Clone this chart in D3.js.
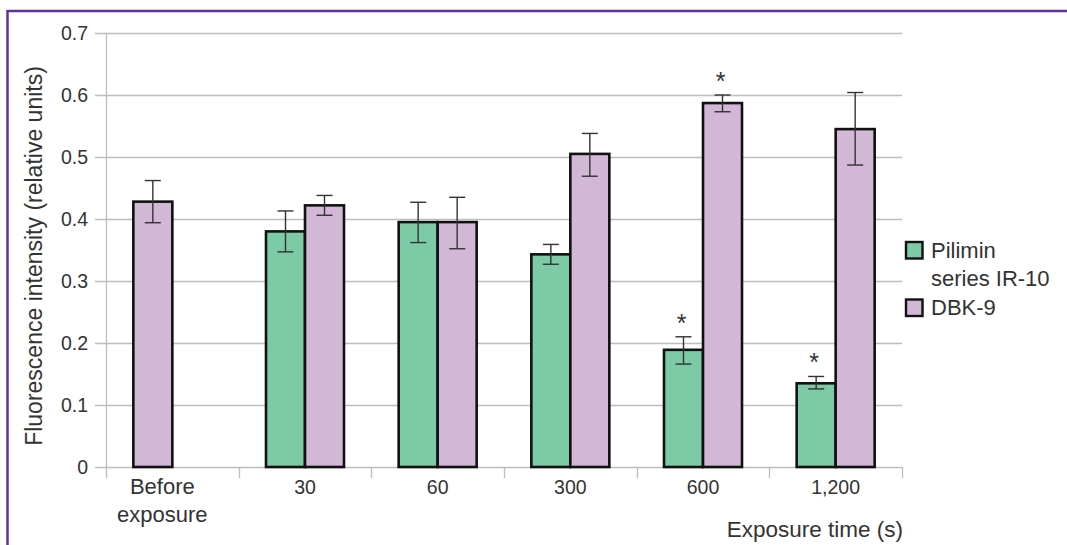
<!DOCTYPE html>
<html>
<head>
<meta charset="utf-8">
<script src="https://cdn.jsdelivr.net/npm/d3@7"></script>
<style>
  html, body { margin: 0; padding: 0; background: #fff; }
  svg { display: block; font-family: "Liberation Sans", Arial, sans-serif; }
</style>
</head>
<body>
<svg id="chart" width="1067" height="545"></svg>
<script>
// ---- Data ----
const categories = ["Before exposure", "30", "60", "300", "600", "1,200"];
const seriesNames = ["Pilimin series IR-10", "DBK-9"];
const piliminValues = [null, 0.380, 0.395, 0.343, 0.189, 0.135];
const piliminErrLow = [null, 0.347, 0.362, 0.327, 0.166, 0.126];
const piliminErrHigh = [null, 0.413, 0.427, 0.359, 0.210, 0.146];
const dbkValues = [0.428, 0.422, 0.395, 0.505, 0.587, 0.545];
const dbkErrLow = [0.394, 0.406, 0.352, 0.469, 0.573, 0.487];
const dbkErrHigh = [0.462, 0.438, 0.435, 0.538, 0.600, 0.604];
const piliminSignificant = [false, false, false, false, true, true];
const dbkSignificant = [false, false, false, false, true, false];
const yTicks = [0, 0.1, 0.2, 0.3, 0.4, 0.5, 0.6, 0.7];
const colors = ["#7dcaa6", "#d2b7d7"];

(function () {
// ---- Layout ----
const svg = d3.select("#chart");
const mLeft = 106, mRight = 902, mTop = 33, mBottom = 467;

// Frame (top and left purple rules)
svg.append("line").attr("x1", 7).attr("x2", 1067).attr("y1", 11).attr("y2", 11)
  .attr("stroke", "#5f3398").attr("stroke-width", 2.5);
svg.append("line").attr("x1", 7.5).attr("x2", 7.5).attr("y1", 10).attr("y2", 545)
  .attr("stroke", "#5f3398").attr("stroke-width", 2.5);

const y = d3.scaleLinear().domain([0, 0.7]).range([mBottom, mTop]);
const x0 = d3.scaleBand().domain(categories).range([mLeft, mRight]).padding(0);
const groupW = 78;
const x1 = d3.scaleBand().domain(seriesNames).range([0, groupW]);
const groupOff = (x0.bandwidth() - groupW) / 2;

// Grid lines
svg.append("g").selectAll("line").data(yTicks).join("line")
  .attr("x1", mLeft - 11).attr("x2", mRight)
  .attr("y1", d => Math.round(y(d)) + 0.5).attr("y2", d => Math.round(y(d)) + 0.5)
  .attr("stroke", "#bdbdbd").attr("stroke-width", 1.3);

// Y axis
const yAxis = d3.axisLeft(y).tickValues(yTicks).tickSize(0).tickPadding(18)
  .tickFormat(d => d === 0 ? "0" : d3.format(".1f")(d));
const yg = svg.append("g").attr("transform", `translate(${mLeft},0)`).call(yAxis);
yg.select(".domain").attr("stroke", "#bdbdbd").attr("stroke-width", 1.3);
yg.selectAll("text").attr("font-size", 19.5).attr("fill", "#333")
  .attr("font-family", "'Liberation Sans', Arial, sans-serif");

// X axis ticks at category boundaries
const boundaries = categories.map(c => x0(c)).concat([mRight]);
svg.append("g").selectAll("line").data(boundaries).join("line")
  .attr("x1", d => Math.round(d) + 0.5).attr("x2", d => Math.round(d) + 0.5)
  .attr("y1", mBottom).attr("y2", mBottom + 11)
  .attr("stroke", "#bdbdbd").attr("stroke-width", 1.3);

// Bars data
const rows = [];
categories.forEach((c, i) => {
  const vals = [piliminValues[i], dbkValues[i]];
  const lo = [piliminErrLow[i], dbkErrLow[i]];
  const hi = [piliminErrHigh[i], dbkErrHigh[i]];
  const sig = [piliminSignificant[i], dbkSignificant[i]];
  const present = vals.map(v => v !== null);
  const onlyOne = present.filter(Boolean).length === 1;
  vals.forEach((v, k) => {
    if (v === null) return;
    const slotName = onlyOne ? seriesNames[0] : seriesNames[k];
    rows.push({ c, k, v, lo: lo[k], hi: hi[k], sig: sig[k],
      x: x0(c) + groupOff + x1(slotName), w: x1.bandwidth() });
  });
});

// Bars
svg.append("g").selectAll("rect").data(rows).join("rect")
  .attr("x", d => d.x).attr("y", d => y(d.v))
  .attr("width", d => d.w).attr("height", d => y(0) - y(d.v))
  .attr("fill", d => colors[d.k])
  .attr("stroke", "#111").attr("stroke-width", 2.6);

// Error bars
const eg = svg.append("g").attr("stroke", "#333").attr("stroke-width", 1.4);
rows.forEach(d => {
  const cx = d.x + d.w / 2;
  eg.append("line").attr("x1", cx).attr("x2", cx).attr("y1", y(d.hi)).attr("y2", y(d.lo));
  eg.append("line").attr("x1", cx - 8).attr("x2", cx + 8).attr("y1", y(d.hi)).attr("y2", y(d.hi));
  eg.append("line").attr("x1", cx - 8).attr("x2", cx + 8).attr("y1", y(d.lo)).attr("y2", y(d.lo));
});

// Significance asterisks
svg.append("g").selectAll("text").data(rows.filter(d => d.sig)).join("text")
  .attr("x", d => d.x + d.w / 2 - 2).attr("y", d => y(d.hi) - 5)
  .attr("text-anchor", "middle").attr("font-size", 25).attr("fill", "#333")
  .text("*");

// X tick labels
const xl = svg.append("g").attr("fill", "#333");
categories.forEach((c, i) => {
  const lines = c.split(" ");
  const isWord = lines.length > 1;
  const cx = x0(c) + x0.bandwidth() / 2 - (i === 0 ? 10 : 0);
  const t = xl.append("text").attr("text-anchor", "middle").attr("x", cx).attr("y", 494)
    .attr("font-size", isWord ? 22 : 19.5);
  lines.forEach((ln, j) => {
    t.append("tspan").attr("x", cx).attr("dy", j === 0 ? 0 : 28).text(ln);
  });
});

// Axis titles
svg.append("text").attr("x", mRight + 1).attr("y", 537).attr("text-anchor", "end")
  .attr("font-size", 22.5).attr("fill", "#333").text("Exposure time (s)");
svg.append("text").attr("transform", `translate(42,256) rotate(-90)`)
  .attr("text-anchor", "middle").attr("font-size", 23).attr("fill", "#333")
  .text("Fluorescence intensity (relative units)");

// Legend
const legend = svg.append("g");
const legendItems = [
  { k: 0, lines: ["Pilimin", "series IR-10"], y: 242 },
  { k: 1, lines: ["DBK-9"], y: 299.5 }
];
legendItems.forEach(it => {
  legend.append("rect").attr("x", 906).attr("y", it.y).attr("width", 16.5).attr("height", 16.5)
    .attr("fill", colors[it.k]).attr("stroke", "#111").attr("stroke-width", 2.4);
  const t = legend.append("text").attr("x", 931).attr("y", it.y + 15.5)
    .attr("font-size", 22).attr("fill", "#333");
  it.lines.forEach((ln, j) => t.append("tspan").attr("x", 931).attr("dy", j === 0 ? 0 : 28).text(ln));
});
})();
</script>
</body>
</html>
